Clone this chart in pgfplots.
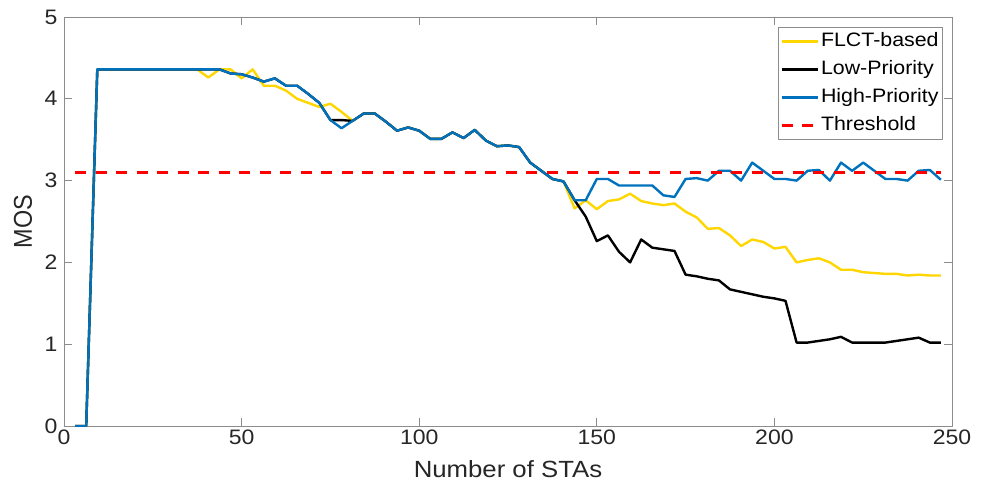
\documentclass[border=0pt]{standalone}
\usepackage{pgfplots}
\pgfplotsset{compat=1.18}
\usepackage{pgfplotstable}
\usepackage{graphicx}
\usepackage{fontspec}
\setmainfont{Liberation Sans}[FakeStretch=1.1]
\newfontfamily\plainfont{Liberation Sans}
\definecolor{myyellow}{RGB}{255,214,0}
\definecolor{myblue}{RGB}{0,114,189}
\definecolor{axgray}{RGB}{140,140,140}
\definecolor{txt}{RGB}{38,38,38}
\pgfplotstableread{
x flct low high
3.125 0 0 0
6.25 0 0 0
9.375 4.36 4.36 4.36
12.5 4.36 4.36 4.36
15.625 4.36 4.36 4.36
18.75 4.36 4.36 4.36
21.875 4.36 4.36 4.36
25 4.36 4.36 4.36
28.125 4.36 4.36 4.36
31.25 4.36 4.36 4.36
34.375 4.36 4.36 4.36
37.5 4.36 4.36 4.36
40.625 4.26 4.36 4.36
43.75 4.36 4.36 4.36
46.875 4.36 4.31 4.31
50 4.25 4.30 4.30
53.125 4.36 4.26 4.26
56.25 4.16 4.21 4.21
59.375 4.16 4.25 4.25
62.5 4.10 4.16 4.16
65.625 4.00 4.16 4.16
68.75 3.95 4.06 4.06
71.875 3.90 3.95 3.95
75 3.94 3.74 3.74
78.125 3.84 3.74 3.64
81.25 3.73 3.73 3.73
84.375 3.82 3.82 3.82
87.5 3.82 3.82 3.82
90.625 3.72 3.72 3.72
93.75 3.61 3.61 3.61
96.875 3.65 3.65 3.65
100 3.61 3.61 3.61
103.125 3.51 3.51 3.51
106.25 3.51 3.51 3.51
109.375 3.59 3.59 3.59
112.5 3.52 3.52 3.52
115.625 3.62 3.62 3.62
118.75 3.49 3.49 3.49
121.875 3.42 3.42 3.42
125 3.43 3.43 3.43
128.125 3.41 3.41 3.41
131.25 3.22 3.22 3.22
134.375 3.12 3.12 3.12
137.5 3.02 3.02 3.02
140.625 2.99 2.99 2.99
143.75 2.66 2.76 2.76
146.875 2.76 2.56 2.76
150 2.65 2.26 3.02
153.125 2.75 2.33 3.02
156.25 2.77 2.13 2.94
159.375 2.84 2.00 2.94
162.5 2.75 2.28 2.94
165.625 2.72 2.18 2.94
168.75 2.70 2.16 2.82
171.875 2.72 2.14 2.80
175 2.62 1.85 3.02
178.125 2.55 1.83 3.03
181.25 2.41 1.80 3.00
184.375 2.42 1.78 3.12
187.5 2.33 1.67 3.12
190.625 2.20 1.64 3.00
193.75 2.28 1.61 3.22
196.875 2.25 1.58 3.12
200 2.17 1.56 3.02
203.125 2.19 1.53 3.02
206.25 2.00 1.02 3.00
209.375 2.03 1.02 3.12
212.5 2.05 1.04 3.13
215.625 2.00 1.06 3.00
218.75 1.91 1.09 3.22
221.875 1.91 1.02 3.12
225 1.88 1.02 3.22
228.125 1.87 1.02 3.12
231.25 1.86 1.02 3.02
234.375 1.86 1.04 3.02
237.5 1.84 1.06 3.00
240.625 1.85 1.08 3.12
243.75 1.84 1.02 3.13
246.875 1.84 1.02 3.01
}\datatable
\begin{document}
\begin{tikzpicture}
\begin{axis}[
  name=ax,
  scale only axis,
  width=888bp, height=409bp,
  xmin=0, xmax=250, ymin=0, ymax=5,
  xtick={0,50,100,150,200,250},
  ytick={0,1,2,3,4,5},
  tick align=inside,
  tick pos=both,
  major tick length=8bp,
  axis line style={axgray, line width=0.8bp},
  every tick/.style={axgray, line width=0.8bp},
  tick label style={font=\fontsize{21}{23}\selectfont, text=txt},
  yticklabel style={xshift=-3bp},
  /pgf/number format/assume math mode=true,
  xlabel={Number of STAs},
  ylabel={\scalebox{1}[1.1]{\plainfont MOS}},
  label style={font=\fontsize{23.5}{25}\selectfont, text=txt},
  xlabel style={at={(axis description cs:0.5,0)}, anchor=base, yshift=-51bp},
  ylabel style={at={([xshift=-41bp]axis description cs:0,0.5)}, anchor=center},
  legend style={at={(1,1)}, anchor=north east, xshift=-9bp, yshift=-10bp,
    draw=axgray, line width=0.8bp, font=\fontsize{19.5}{21}\selectfont,
    inner xsep=2bp, inner ysep=0bp, row sep=0bp, column sep=0bp,
    nodes={inner xsep=2bp, inner ysep=4.75bp, text height=14bp, text depth=4.5bp}},
  legend cell align=left,
  legend image code/.code={\draw[#1] (0bp,0bp) -- (36bp,0bp);},
  line join=round,
]
\addplot[myyellow, line width=2.4bp] table[x=x, y=flct] {\datatable};
\addlegendentry{FLCT-based}
\addplot[black, line width=2.4bp] table[x=x, y=low] {\datatable};
\addlegendentry{Low-Priority}
\addplot[myblue, line width=2.4bp] table[x=x, y=high] {\datatable};
\addlegendentry{High-Priority}
\addplot[red, line width=2.4bp, dash pattern=on 11bp off 9.5bp] coordinates {(3.125,3.1) (246.875,3.1)};
\addlegendentry{Threshold}
\end{axis}
\pgfresetboundingbox
\path ([shift={(-64bp,-64bp)}]ax.south west) rectangle ([shift={(36bp,17bp)}]ax.north east);
\end{tikzpicture}
\end{document}
